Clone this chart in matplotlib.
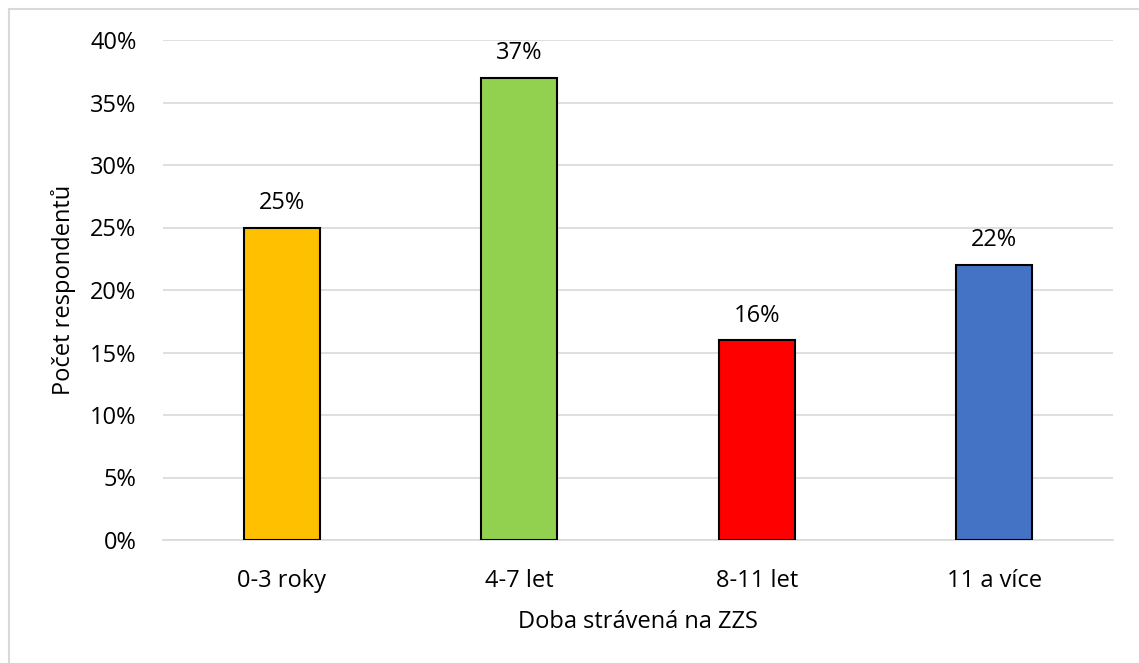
import matplotlib.pyplot as plt
from matplotlib.patches import Rectangle
from matplotlib.ticker import PercentFormatter

categories = ['0-3 roky', '4-7 let', '8-11 let', '11 a více']
values = [25, 37, 16, 22]
colors = ['#FFC000', '#92D050', '#FF0000', '#4472C4']
yticks = [0, 5, 10, 15, 20, 25, 30, 35, 40]

plt.rcParams['font.family'] = ['Open Sans', 'DejaVu Sans']

fig = plt.figure(figsize=(11.39, 6.63), dpi=100)
ax = fig.add_axes([163 / 1139, 1 - 540 / 663, (1113 - 163) / 1139, 500 / 663])

# grey frame on top/left, screenshot is cut at right/bottom
fig.patches.append(Rectangle((9 / 1139, -0.1), 1.2, (663 - 9) / 663 + 0.1,
                             transform=fig.transFigure, fill=False,
                             edgecolor='#D9D9D9', linewidth=1.5))

x = range(len(categories))
bars = ax.bar(x, values, width=0.32, color=colors, edgecolor='black', linewidth=1.5, zorder=3)
for b, v in zip(bars, values):
    ax.text(b.get_x() + b.get_width() / 2, v + 1.0, f'{v}%', ha='center', va='bottom',
            fontsize=17)

ax.set_xlim(-0.5, 3.5)
ax.set_ylim(0, 40)
ax.set_yticks(yticks)
ax.yaxis.set_major_formatter(PercentFormatter(decimals=0))
ax.set_xticks(list(x))
ax.set_xticklabels(categories)
ax.tick_params(axis='both', length=0, labelsize=17)
ax.tick_params(axis='x', pad=21)
ax.tick_params(axis='y', pad=19)
ax.grid(axis='y', color='#D9D9D9', linewidth=1.2, zorder=0)
for s in ['top', 'right', 'left']:
    ax.spines[s].set_visible(False)
ax.spines['bottom'].set_color('#D9D9D9')
ax.spines['bottom'].set_linewidth(1.2)

ax.set_xlabel('Doba strávená na ZZS', fontsize=17, labelpad=12)
ax.set_ylabel('Počet respondentů', fontsize=17, labelpad=10)

fig.savefig('out.png', dpi=100)
